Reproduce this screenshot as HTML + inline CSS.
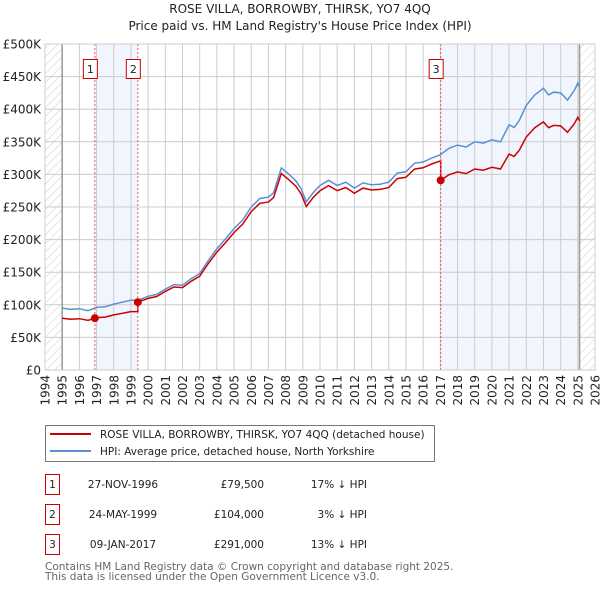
<!DOCTYPE html>
<html><head><meta charset="utf-8"><style>
body{margin:0;background:#fff;font-family:"DejaVu Sans","Liberation Sans",sans-serif;}
svg text{font-family:"DejaVu Sans","Liberation Sans",sans-serif;}
</style></head><body>
<svg id="c" width="600" height="590" xmlns="http://www.w3.org/2000/svg">
<defs><pattern id="hatch" width="6" height="6" patternUnits="userSpaceOnUse" patternTransform="rotate(45)"><line x1="0" y1="0" x2="0" y2="6" stroke="#ccc" stroke-width="1"/></pattern></defs>
<text x="300" y="13" text-anchor="middle" font-size="12" fill="#222">ROSE VILLA, BORROWBY, THIRSK, YO7 4QQ</text>
<text x="300" y="30" text-anchor="middle" font-size="12" fill="#222">Price paid vs. HM Land Registry's House Price Index (HPI)</text>
<g id="plot"></g>
<g>
<rect x="45.5" y="425.5" width="389" height="36" fill="#fff" stroke="#777"/>
<line x1="50" y1="434" x2="91" y2="434" stroke="#cc0000" stroke-width="2"/>
<text x="100" y="438" font-size="10.5" fill="#222">ROSE VILLA, BORROWBY, THIRSK, YO7 4QQ (detached house)</text>
<line x1="50" y1="451" x2="91" y2="451" stroke="#5b8fd4" stroke-width="2"/>
<text x="100" y="455" font-size="10.5" fill="#222">HPI: Average price, detached house, North Yorkshire</text>
</g>
<g id="table" font-size="10.5" fill="#222"></g>
<text x="45" y="570" font-size="10.5" fill="#666">Contains HM Land Registry data © Crown copyright and database right 2025.</text>
<text x="45" y="580" font-size="10.5" fill="#666">This data is licensed under the Open Government Licence v3.0.</text>
</svg>
<script>
const hpiDates=[1995,1995.5,1996,1996.5,1997,1997.5,1998,1998.5,1999,1999.4,2000,2000.5,2001,2001.5,2002,2002.5,2003,2003.5,2004,2004.5,2005,2005.5,2006,2006.5,2007,2007.3,2007.75,2008.2,2008.6,2008.9,2009.2,2009.6,2010,2010.5,2011,2011.5,2012,2012.5,2013,2013.5,2014,2014.5,2015,2015.5,2016,2016.5,2017,2017.5,2018,2018.5,2019,2019.5,2020,2020.5,2021,2021.3,2021.6,2022,2022.5,2023,2023.3,2023.6,2024,2024.4,2024.8,2025,2025.1];
const hpiValues=[95,93,94,91,96,97,101,104,107,107,113,116,124,131,130,140,148,168,186,201,217,230,250,263,265,272,310,300,290,278,258,272,283,291,283,288,279,287,284,285,288,302,304,317,319,325,330,340,345,342,350,348,353,350,376,372,383,406,422,432,422,426,425,414,429,440,434];
const saleDates=[1996.9,1999.4,2017.02];
const salePrices=[79.5,104,291];
const saleLabels=['1','2','3'];
const saleDateText=['27-NOV-1996','24-MAY-1999','09-JAN-2017'];
const salePriceText=['£79,500','£104,000','£291,000'];
const saleHpiText=['17% ↓ HPI','3% ↓ HPI','13% ↓ HPI'];
const yTicks=[0,50,100,150,200,250,300,350,400,450,500];
const yTickLabels=['£0','£50K','£100K','£150K','£200K','£250K','£300K','£350K','£400K','£450K','£500K'];
const xTicks=[1994,1995,1996,1997,1998,1999,2000,2001,2002,2003,2004,2005,2006,2007,2008,2009,2010,2011,2012,2013,2014,2015,2016,2017,2018,2019,2020,2021,2022,2023,2024,2025,2026];

const X0=45,X1=595,Y0=370,Y1=44;
const x=d=>X0+(d-1994)/(2026-1994)*(X1-X0);
const y=v=>Y0-v/500*(Y0-Y1);
const NS='http://www.w3.org/2000/svg';
function mk(p,tag,at){const e=document.createElementNS(NS,tag);for(const k in at)e.setAttribute(k,at[k]);p.appendChild(e);return e;}
const plot=document.getElementById('plot');
function hpiAt(d){for(let i=0;i<hpiDates.length-1;i++){if(d>=hpiDates[i]&&d<=hpiDates[i+1]){const t=(d-hpiDates[i])/(hpiDates[i+1]-hpiDates[i]);return hpiValues[i]+t*(hpiValues[i+1]-hpiValues[i]);}}return hpiValues[hpiValues.length-1];}

let r=mk(plot,'rect',{x:X0,y:Y1,width:X1-X0,height:Y0-Y1,fill:'#fff'});

r=mk(plot,'rect',{x:x(saleDates[0]),y:Y1,width:x(saleDates[1])-x(saleDates[0]),height:Y0-Y1,fill:'#eef3fc',opacity:0.8});

r=mk(plot,'rect',{x:x(saleDates[2]),y:Y1,width:x(2025.1)-x(saleDates[2]),height:Y0-Y1,fill:'#eef3fc',opacity:0.8});

r=mk(plot,'rect',{x:X0,y:Y1,width:x(1995)-X0,height:Y0-Y1,fill:'url(#hatch)'});

r=mk(plot,'rect',{x:x(2025.1),y:Y1,width:X1-x(2025.1),height:Y0-Y1,fill:'url(#hatch)'});


yTicks.forEach((v,i)=>{
 const l=mk(plot,'line',{x1:X0,x2:X1,y1:y(v),y2:y(v),stroke:'#ccc','stroke-width':1});
 
 const t=mk(plot,'text',{x:X0-4,y:y(v)+4.5,'text-anchor':'end','font-size':12,fill:'#222'});t.textContent=yTickLabels[i];
 
});
xTicks.forEach(d=>{
 const l=mk(plot,'line',{x1:x(d),x2:x(d),y1:Y1,y2:Y0,stroke:'#ccc','stroke-width':1});
 
 const t=mk(plot,'text',{transform:`translate(${x(d)+4.5},${Y0+5}) rotate(-90)`,'text-anchor':'end','font-size':12,fill:'#222'});t.textContent=d;
 
});
[1995,2025.1].forEach(d=>{const l=mk(plot,'line',{x1:x(d),x2:x(d),y1:Y1,y2:Y0,stroke:'#999','stroke-width':1.5});
 });

let pts=hpiDates.map((d,i)=>x(d).toFixed(1)+','+y(hpiValues[i]).toFixed(1)).join(' ');
let pl=mk(plot,'polyline',{points:pts,fill:'none',stroke:'#5b8fd4','stroke-width':1.5});

let rp=[];
hpiDates.forEach((d,i)=>{
 let k=0;for(let s=0;s<saleDates.length;s++)if(d>=saleDates[s])k=s;
 rp.push([d,salePrices[k]*hpiValues[i]/hpiAt(saleDates[k])]);
});
let rp2=[];
for(let i=0;i<rp.length;i++){
 for(let s=1;s<saleDates.length;s++){
  if(i>0&&rp[i-1][0]<saleDates[s]&&rp[i][0]>=saleDates[s]){
   rp2.push([saleDates[s],salePrices[s-1]*hpiAt(saleDates[s])/hpiAt(saleDates[s-1])]);
   rp2.push([saleDates[s],salePrices[s]]);
  }
 }
 rp2.push(rp[i]);
}
pts=rp2.map(p=>x(p[0]).toFixed(1)+','+y(p[1]).toFixed(1)).join(' ');
pl=mk(plot,'polyline',{points:pts,fill:'none',stroke:'#cc0000','stroke-width':1.5});


saleDates.forEach((d,i)=>{
 const l=mk(plot,'line',{x1:x(d),x2:x(d),y1:Y1,y2:Y0,stroke:'#e55','stroke-width':1,'stroke-dasharray':'2,2'});
 
 const c=mk(plot,'circle',{cx:x(d),cy:y(salePrices[i]),r:4,fill:'#cc0000'});
 
 const b=mk(plot,'rect',{x:x(d)-11.5,y:59.5,width:14,height:19,fill:'#fff',stroke:'#cc0000'});
 
 const t=mk(plot,'text',{x:x(d)-4.5,y:73,'text-anchor':'middle','font-size':11,fill:'#222'});t.textContent=saleLabels[i];
 
});
mk(plot,'rect',{x:X0,y:Y1,width:X1-X0,height:Y0-Y1,fill:'none',stroke:'#ccc'});

const tb=document.getElementById('table');
saleDates.forEach((d,i)=>{
 const yy=485+i*30;
 const b=mk(tb,'rect',{x:45.5,y:yy-10.5,width:14,height:20,fill:'#fff',stroke:'#cc0000'});
 
 let t=mk(tb,'text',{x:52.5,y:yy+3,'text-anchor':'middle'});t.textContent=saleLabels[i];
 
 t=mk(tb,'text',{x:123,y:yy+3,'text-anchor':'middle'});t.textContent=saleDateText[i];
 
 t=mk(tb,'text',{x:264,y:yy+3,'text-anchor':'end'});t.textContent=salePriceText[i];
 
 t=mk(tb,'text',{x:367,y:yy+3,'text-anchor':'end'});t.textContent=saleHpiText[i];
 
});
</script>
</body></html>
